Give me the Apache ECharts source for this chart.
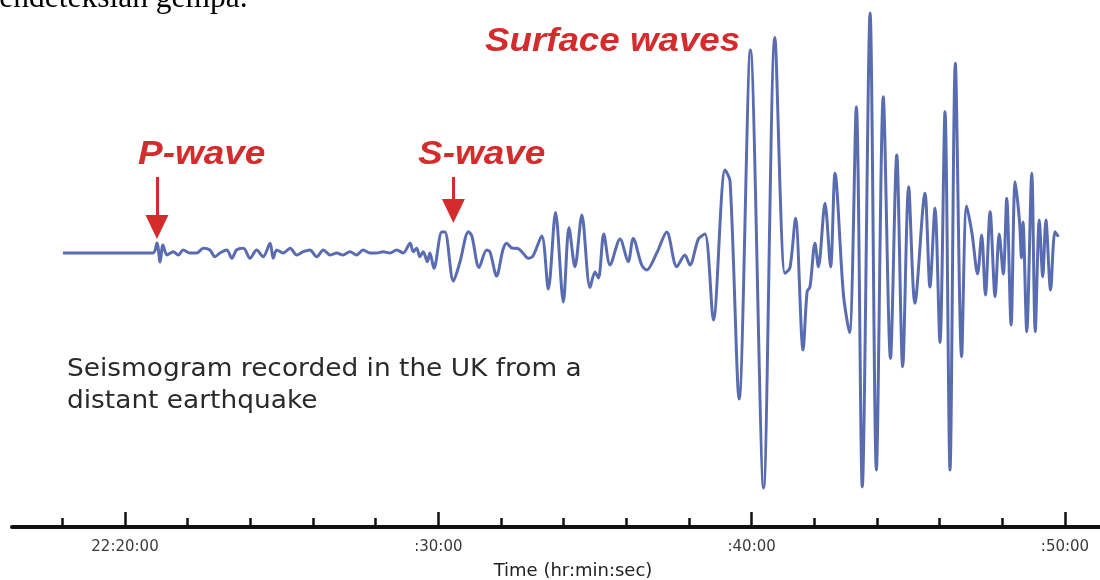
<!DOCTYPE html>
<html><head><meta charset="utf-8">
<script src="https://cdn.jsdelivr.net/npm/echarts@6/dist/echarts.min.js"></script>
<style>html,body{margin:0;padding:0;background:#fff}#c{width:1100px;height:580px}</style>
</head><body><div id="c"></div>
<script>
// time in minutes after 22:00:00
const timeMin = [18.02,20.89,21.02,21.12,21.21,21.34,21.54,21.70,21.86,22.07,22.29,22.50,22.71,22.87,23.03,23.25,23.41,23.56,23.78,23.99,
24.20,24.41,24.63,24.73,24.84,25.05,25.27,25.48,25.69,25.90,26.12,26.33,26.54,26.76,26.96,27.18,27.39,27.60,27.82,28.03,
28.24,28.46,28.67,28.88,29.10,29.20,29.31,29.41,29.52,29.65,29.73,29.86,30.11,30.21,30.48,30.69,30.96,31.07,31.30,31.54,
31.65,31.86,32.06,32.18,32.35,32.54,32.70,32.87,33.02,33.30,33.51,33.74,33.99,34.17,34.36,34.58,34.84,35.00,35.11,35.28,
35.48,35.80,36.06,36.22,36.49,36.65,36.97,37.29,37.61,37.87,38.03,38.30,38.51,38.78,39.15,39.31,39.60,39.96,40.38,40.74,
41.06,41.22,41.40,41.64,41.77,41.86,42.02,42.13,42.34,42.52,42.66,42.93,43.12,43.34,43.53,43.78,43.98,44.20,44.43,44.63,
44.82,45.01,45.21,45.53,45.69,45.85,46.01,46.17,46.33,46.50,46.70,46.86,47.03,47.21,47.34,47.46,47.61,47.77,47.90,48.03,
48.14,48.28,48.41,48.55,48.61,48.66,48.78,48.94,49.05,49.18,49.29,49.39,49.54,49.68,49.79];
// ground motion (arbitrary units)
const amplitude = [0,0,10,-9,8,-2,1.3,-2,3,0,0,4.7,3,-3.7,0,3,-5.3,3,4.7,-5.3,
3,-3.7,9.7,-5.3,3,0,4.7,-2,1.3,3,-3.7,3,-2,0,-2,1.3,-2,3,0,0,
1.3,0,3,0,9.7,1.3,4.7,-3.7,1.3,-8.7,0,-15.3,21,21,-28,-9,21.3,17,-14.5,3,
1,-23,3,9.7,5,4.5,0,-5.3,-3,17,-36,40.5,-49,25.5,-13.7,38,-34.5,-19,-25,19,
-12,14,-8.7,14.5,-12,-17,0,21,-13.7,-2,-12,14,19,-67,83,72,-146,203,-235,215.5,
-20.3,-15,34.7,-97,-38.7,-34,9.7,-13.7,49.7,-13.7,79.7,-42,-79.5,146.3,-234,240,-217,156.3,-105.3,98,
-113.7,66.3,-50.3,59.7,-34,44.7,-89.5,141.3,-217,189.7,-103.7,47,20,-21,18,-42,41.3,-43.7,19,-21,
54.7,-72,71.3,31,-5,31,-78.7,79.7,-78.7,33,-23.7,33,-37,21.3,16.3];
const minorTicks = [18,22,24,26,28,32,34,36,38,42,44,46,48];
const majorTicks = [20,30,40,50];
const tickLabels = ['22:20:00', ':30:00', ':40:00', ':50:00'];
const arrowTimes = [21.02, 30.48];
const arrowTop = [76, 76];
const arrowTip = [26, 42];

const PX_PER_MIN = 940 / 30;
const X_MIN = 20 - 113 / PX_PER_MIN;
const X_MAX = 20 + 975 / PX_PER_MIN;
const RED = '#d42b2c';
const AXC = '#111';

const chart = echarts.init(document.getElementById('c'));
const baseX = {
  type: 'value', min: X_MIN, max: X_MAX, position: 'bottom', gridIndex: 0,
  splitLine: { show: false }
};
chart.setOption({
  backgroundColor: '#fff',
  animation: false,
  grid: { left: 12, right: 0, top: 0, bottom: 53, containLabel: false, outerBoundsMode: 'none' },
  xAxis: [
    Object.assign({}, baseX, {
      axisLine: { onZero: false, lineStyle: { color: AXC, width: 4 } },
      axisTick: { inside: true, length: 9, customValues: minorTicks, lineStyle: { color: AXC, width: 2.5 } },
      axisLabel: { show: false }
    }),
    Object.assign({}, baseX, {
      axisLine: { show: false, onZero: false },
      axisTick: { inside: true, length: 15, customValues: majorTicks, lineStyle: { color: AXC, width: 2.5 } },
      axisLabel: {
        customValues: majorTicks, margin: 13, color: '#3a3a3a', fontSize: 15,
        fontFamily: 'DejaVu Sans, sans-serif',
        formatter: v => tickLabels[majorTicks.indexOf(v)]
      },
      name: 'Time (hr:min:sec)', nameLocation: 'middle', nameGap: 35,
      nameTextStyle: { color: '#222', fontSize: 18, fontFamily: 'DejaVu Sans, sans-serif', padding: [0, 0, 0, 34] }
    })
  ],
  yAxis: { type: 'value', min: -274, max: 253, show: false },
  series: [{
    type: 'line', xAxisIndex: 0,
    data: timeMin.map((t, i) => [t, amplitude[i]]),
    showSymbol: false, smooth: 0.3,
    lineStyle: { color: '#5a6cb0', width: 3 },
    markLine: {
      silent: true, symbol: ['none', 'triangle'], symbolSize: [23, 24],
      label: { show: false },
      lineStyle: { color: RED, width: 3, type: 'solid' },
      itemStyle: { color: RED },
      data: arrowTimes.map((t, i) => [{ coord: [t, arrowTop[i]] }, { coord: [t, arrowTip[i]] }])
    }
  }],
  graphic: [
    { type: 'text', x: -16.5, y: -17, style: { text: 'pendeteksian gempa.', font: '31.5px "Liberation Serif", "Times New Roman", serif', fill: '#000' } },
    { type: 'text', x: 485, y: 42, scaleX: 1.08, style: { text: 'Surface waves', font: 'italic bold 34px "Liberation Sans", Arial, sans-serif', fill: RED, verticalAlign: 'middle' } },
    { type: 'text', x: 138, y: 155, scaleX: 1.12, style: { text: 'P-wave', font: 'italic bold 33px "Liberation Sans", Arial, sans-serif', fill: RED, verticalAlign: 'middle' } },
    { type: 'text', x: 418, y: 155, scaleX: 1.12, style: { text: 'S-wave', font: 'italic bold 33px "Liberation Sans", Arial, sans-serif', fill: RED, verticalAlign: 'middle' } },
    { type: 'text', x: 67, y: 370, scaleX: 1.1, style: { text: 'Seismogram recorded in the UK from a', font: '24px "DejaVu Sans", sans-serif', fill: '#2a2a2a', verticalAlign: 'middle' } },
    { type: 'text', x: 67, y: 402, scaleX: 1.1, style: { text: 'distant earthquake', font: '24px "DejaVu Sans", sans-serif', fill: '#2a2a2a', verticalAlign: 'middle' } }
  ]
});
</script></body></html>
